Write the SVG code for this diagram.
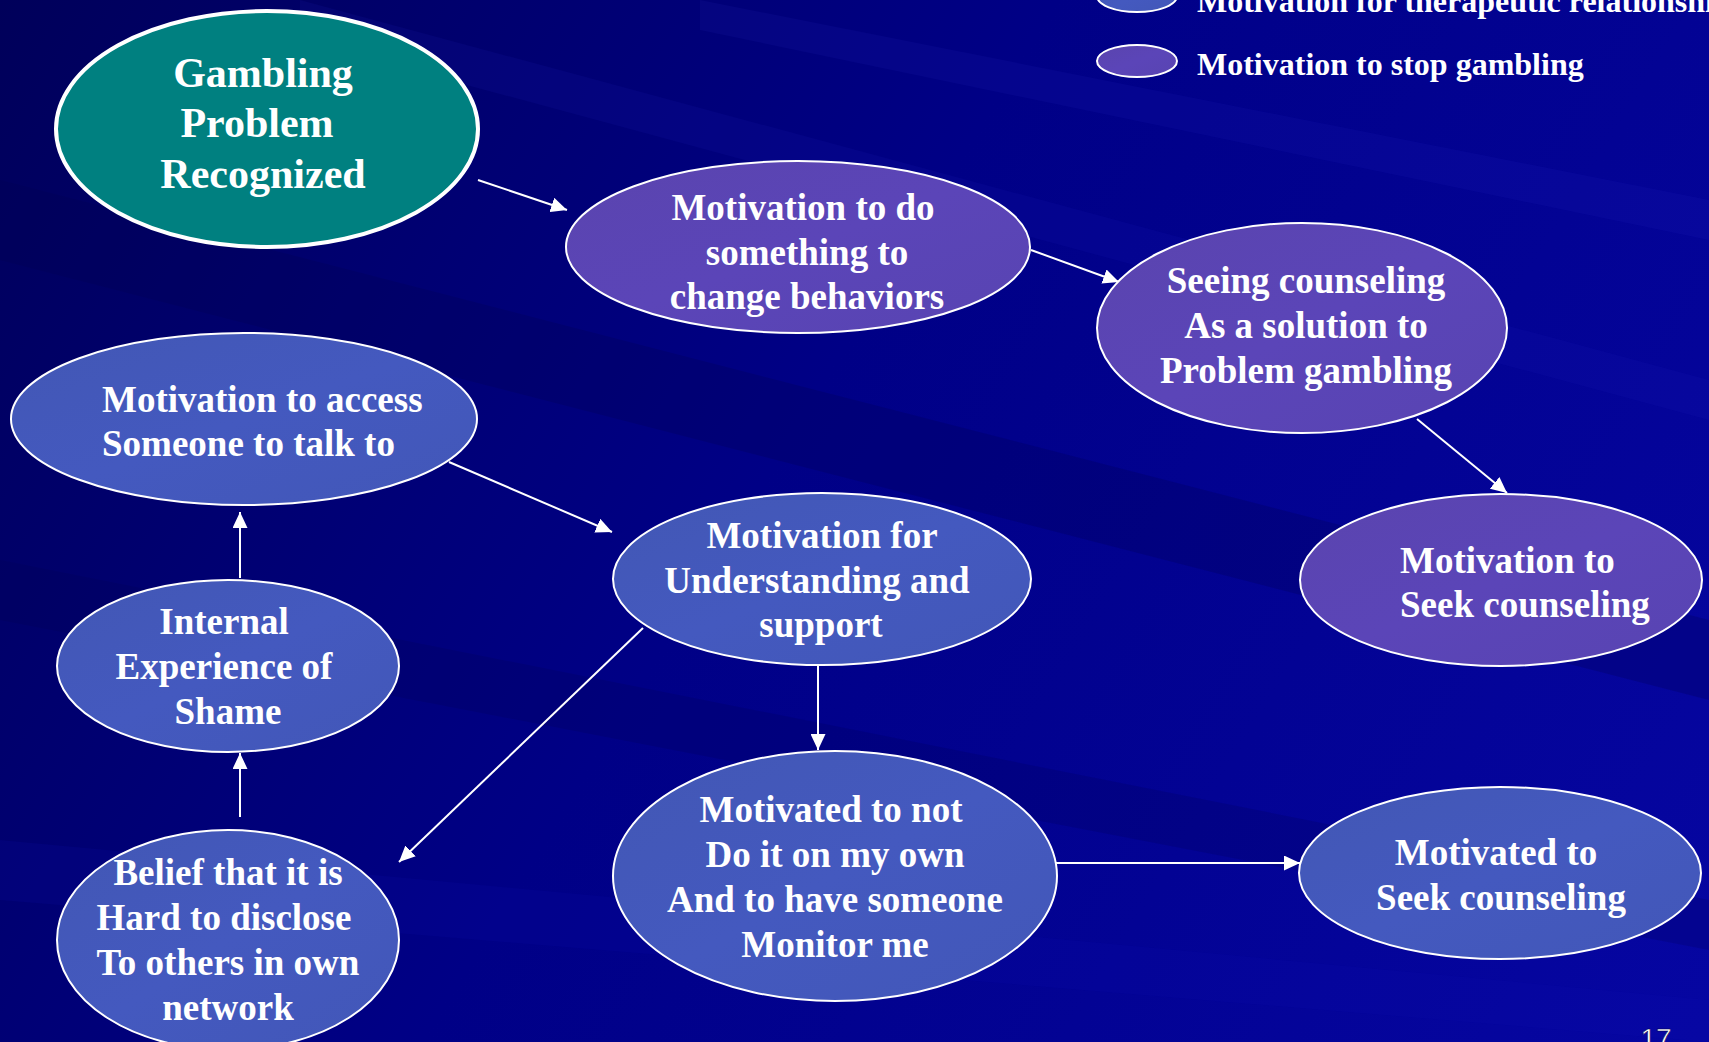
<svg xmlns="http://www.w3.org/2000/svg" width="1709" height="1042" viewBox="0 0 1709 1042">
<defs>
<linearGradient id="bg" x1="0" y1="0" x2="1709" y2="1042" gradientUnits="userSpaceOnUse">
<stop offset="0" stop-color="#00005a"/>
<stop offset="0.45" stop-color="#000086"/>
<stop offset="1" stop-color="#0606a2"/>
</linearGradient>
<linearGradient id="purp" x1="0" y1="0" x2="1" y2="1">
<stop offset="0" stop-color="#5a44ae"/>
<stop offset="0.5" stop-color="#5b45b8"/>
<stop offset="1" stop-color="#5844b2"/>
</linearGradient>
<linearGradient id="blue" x1="0" y1="0" x2="1" y2="1">
<stop offset="0" stop-color="#4257b4"/>
<stop offset="0.5" stop-color="#4459bf"/>
<stop offset="1" stop-color="#4257b8"/>
</linearGradient>
<marker id="ah" markerUnits="userSpaceOnUse" markerWidth="16" markerHeight="15" viewBox="0 0 16 15" refX="16" refY="7.5" orient="auto">
<path d="M0,0 L16,7.5 L0,15 z" fill="#ffffff"/>
</marker>
</defs>
<style>
.n{stroke:#ffffff;stroke-width:2}
.p{fill:url(#purp)}
.b{fill:url(#blue)}
.t{font-family:"Liberation Serif","Times New Roman",serif;font-weight:bold;font-size:37px;fill:#ffffff}
.c{text-anchor:middle}
.big{font-size:42px}
.lg{font-size:32px}
.e{stroke:#ffffff;stroke-width:2;fill:none;marker-end:url(#ah)}
</style>
<rect x="0" y="0" width="1709" height="1042" fill="url(#bg)"/>
<g id="streaks" opacity="1">
<polygon points="0,180 1709,620 1709,700 0,260" fill="#000050" opacity="0.25"/>
<polygon points="300,0 1709,380 1709,420 300,40" fill="#2020c0" opacity="0.12"/>
<polygon points="0,560 1709,900 1709,950 0,620" fill="#000050" opacity="0.2"/>
<polygon points="700,0 1709,200 1709,240 700,30" fill="#3030d0" opacity="0.1"/>
<polygon points="0,840 1709,1000 1709,1042 0,900" fill="#1010b0" opacity="0.15"/>
</g>
<g id="legend">
<ellipse class="n b" cx="1137" cy="-4" rx="40" ry="16"/>
<text class="t lg" x="1197" y="12">Motivation for therapeutic relationship</text>
<ellipse class="n p" cx="1137" cy="61" rx="40" ry="16"/>
<text class="t lg" x="1197" y="75">Motivation to stop gambling</text>
</g>
<g id="connectors">
<line class="e" x1="478" y1="180" x2="567" y2="210"/>
<line class="e" x1="1031" y1="250" x2="1119" y2="282"/>
<line class="e" x1="1417" y1="419" x2="1507" y2="493"/>
<line class="e" x1="449" y1="462" x2="612" y2="532"/>
<line class="e" x1="240" y1="578" x2="240" y2="512"/>
<line class="e" x1="240" y1="817" x2="240" y2="753"/>
<line class="e" x1="643" y1="628" x2="399" y2="862"/>
<line class="e" x1="818" y1="666" x2="818" y2="750"/>
<line class="e" x1="1056" y1="863" x2="1300" y2="863"/>
</g>
<g id="n1">
<ellipse cx="267" cy="129" rx="211" ry="118" fill="#008080" stroke="#ffffff" stroke-width="4"/>
<text class="t big c" x="263" y="87">Gambling</text>
<text class="t big c" x="257" y="137">Problem</text>
<text class="t big c" x="263" y="188">Recognized</text>
</g>
<g id="n2">
<ellipse class="n p" cx="798" cy="247" rx="232" ry="86"/>
<text class="t c" x="803" y="220">Motivation to do</text>
<text class="t c" x="807" y="265">something to</text>
<text class="t c" x="807" y="309">change behaviors</text>
</g>
<g id="n3">
<ellipse class="n p" cx="1302" cy="328" rx="205" ry="105"/>
<text class="t c" x="1306" y="293">Seeing counseling</text>
<text class="t c" x="1306" y="338">As a solution to</text>
<text class="t c" x="1306" y="383">Problem gambling</text>
</g>
<g id="n4">
<ellipse class="n p" cx="1501" cy="580" rx="201" ry="86"/>
<text class="t" x="1400" y="573">Motivation to</text>
<text class="t" x="1400" y="617">Seek counseling</text>
</g>
<g id="n5">
<ellipse class="n b" cx="244" cy="419" rx="233" ry="86"/>
<text class="t" x="102" y="412">Motivation to access</text>
<text class="t" x="102" y="456">Someone to talk to</text>
</g>
<g id="n6">
<ellipse class="n b" cx="822" cy="579" rx="209" ry="86"/>
<text class="t c" x="822" y="548">Motivation for</text>
<text class="t c" x="817" y="593">Understanding and</text>
<text class="t c" x="821" y="637">support</text>
</g>
<g id="n7">
<ellipse class="n b" cx="228" cy="666" rx="171" ry="86"/>
<text class="t c" x="224" y="634">Internal</text>
<text class="t c" x="224" y="679">Experience of</text>
<text class="t c" x="228" y="724">Shame</text>
</g>
<g id="n8">
<ellipse class="n b" cx="228" cy="940" rx="171" ry="110"/>
<text class="t c" x="228" y="885">Belief that it is</text>
<text class="t c" x="224" y="930">Hard to disclose</text>
<text class="t c" x="228" y="975">To others in own</text>
<text class="t c" x="228" y="1020">network</text>
</g>
<g id="n9">
<ellipse class="n b" cx="835" cy="876" rx="222" ry="125"/>
<text class="t c" x="831" y="822">Motivated to not</text>
<text class="t c" x="835" y="867">Do it on my own</text>
<text class="t c" x="835" y="912">And to have someone</text>
<text class="t c" x="835" y="957">Monitor me</text>
</g>
<g id="n10">
<ellipse class="n b" cx="1500" cy="873" rx="201" ry="86"/>
<text class="t c" x="1496" y="865">Motivated to</text>
<text class="t c" x="1501" y="910">Seek counseling</text>
</g>
<text x="1656" y="1048" text-anchor="middle" font-family="Liberation Sans, Arial, sans-serif" font-size="28" fill="#ffffff" stroke="#000040" stroke-width="0.5">17</text>
</svg>
